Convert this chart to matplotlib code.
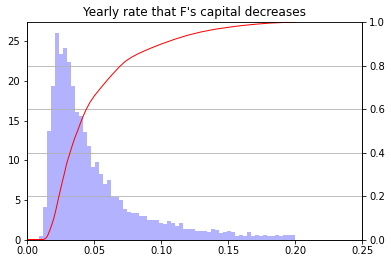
import numpy as np
import matplotlib
matplotlib.use("Agg")
import matplotlib.pyplot as plt

# Histogram (density): 64 equal bins from ~0.0089 to 0.2
hist_range = (0.0089, 0.2)
density = [
    0.4, 4.15, 13.7, 19.4, 26.1, 23.4, 24.2, 22.4, 19.4, 16.1,
    15.6, 13.6, 11.8, 9.2, 9.8, 8.3, 7.0, 7.5, 5.3, 5.4,
    5.0, 3.9, 3.5, 3.4, 3.4, 3.0, 3.0, 2.5, 2.4, 2.4,
    2.1, 2.0, 2.3, 2.1, 1.76, 2.1, 1.38, 1.38, 1.38, 1.13,
    1.13, 1.13, 1.0, 1.38, 1.26, 0.76, 0.9, 1.13, 0.9, 0.5,
    0.63, 0.5, 1.0, 0.5, 0.63, 0.5, 0.63, 0.5, 0.38, 0.63,
    0.5, 0.63, 0.63, 0.63,
]

# Cumulative distribution (right axis)
cdf_x = [0.0, 0.0120, 0.0135, 0.0150, 0.0169, 0.0184, 0.0199, 0.0214, 0.0229,
         0.0244, 0.0259, 0.0277, 0.0294, 0.0319, 0.0337, 0.0356, 0.0375, 0.0393,
         0.0412, 0.0431, 0.0450, 0.0468, 0.0500, 0.0543, 0.0570, 0.0600, 0.0630,
         0.0654, 0.0687, 0.0731, 0.0780, 0.0830, 0.0880, 0.0930, 0.1000, 0.1100,
         0.1200, 0.1300, 0.1400, 0.1500, 0.1600, 0.1700, 0.1800, 0.1900, 0.2000]
cdf_y = [0.0, 0.0, 0.004, 0.015, 0.044, 0.070, 0.100, 0.138, 0.180,
         0.220, 0.260, 0.305, 0.350, 0.400, 0.436, 0.470, 0.500, 0.530,
         0.560, 0.588, 0.611, 0.632, 0.661, 0.694, 0.714, 0.736, 0.757,
         0.773, 0.795, 0.820, 0.840, 0.856, 0.870, 0.883, 0.900, 0.922,
         0.941, 0.956, 0.968, 0.977, 0.985, 0.991, 0.996, 0.999, 1.0]

title = "Yearly rate that F's capital decreases"
x_ticks = [0.0, 0.05, 0.10, 0.15, 0.20, 0.25]
left_ticks = [0, 5, 10, 15, 20, 25]
right_ticks = [0.0, 0.2, 0.4, 0.6, 0.8, 1.0]

W, H, DPI = 391, 264, 72
fig = plt.figure(figsize=(W / DPI, H / DPI), dpi=DPI)
ax = fig.add_axes([27.3 / W, (H - 239.5) / H, (362.3 - 27.3) / W, (239.5 - 22.3) / H])

n = len(density)
edges = np.linspace(hist_range[0], hist_range[1], n + 1)
centers = (edges[:-1] + edges[1:]) / 2
ax.hist(centers, bins=edges, weights=density, color='b', alpha=0.3)
ax.set_xlim(0, 0.25)
ax.set_xticks(x_ticks)
ax.set_xticklabels([f"{t:.2f}" for t in x_ticks])
ax.set_yticks(left_ticks)
ax.set_title(title, fontsize=12)

ax2 = ax.twinx()
ax2.plot(cdf_x, cdf_y, color='r', lw=1)
ax2.set_ylim(0, 1)
ax2.set_yticks(right_ticks)
ax2.grid(True)

for a in (ax, ax2):
    a.tick_params(labelsize=10)

fig.savefig("out.png", dpi=DPI)
